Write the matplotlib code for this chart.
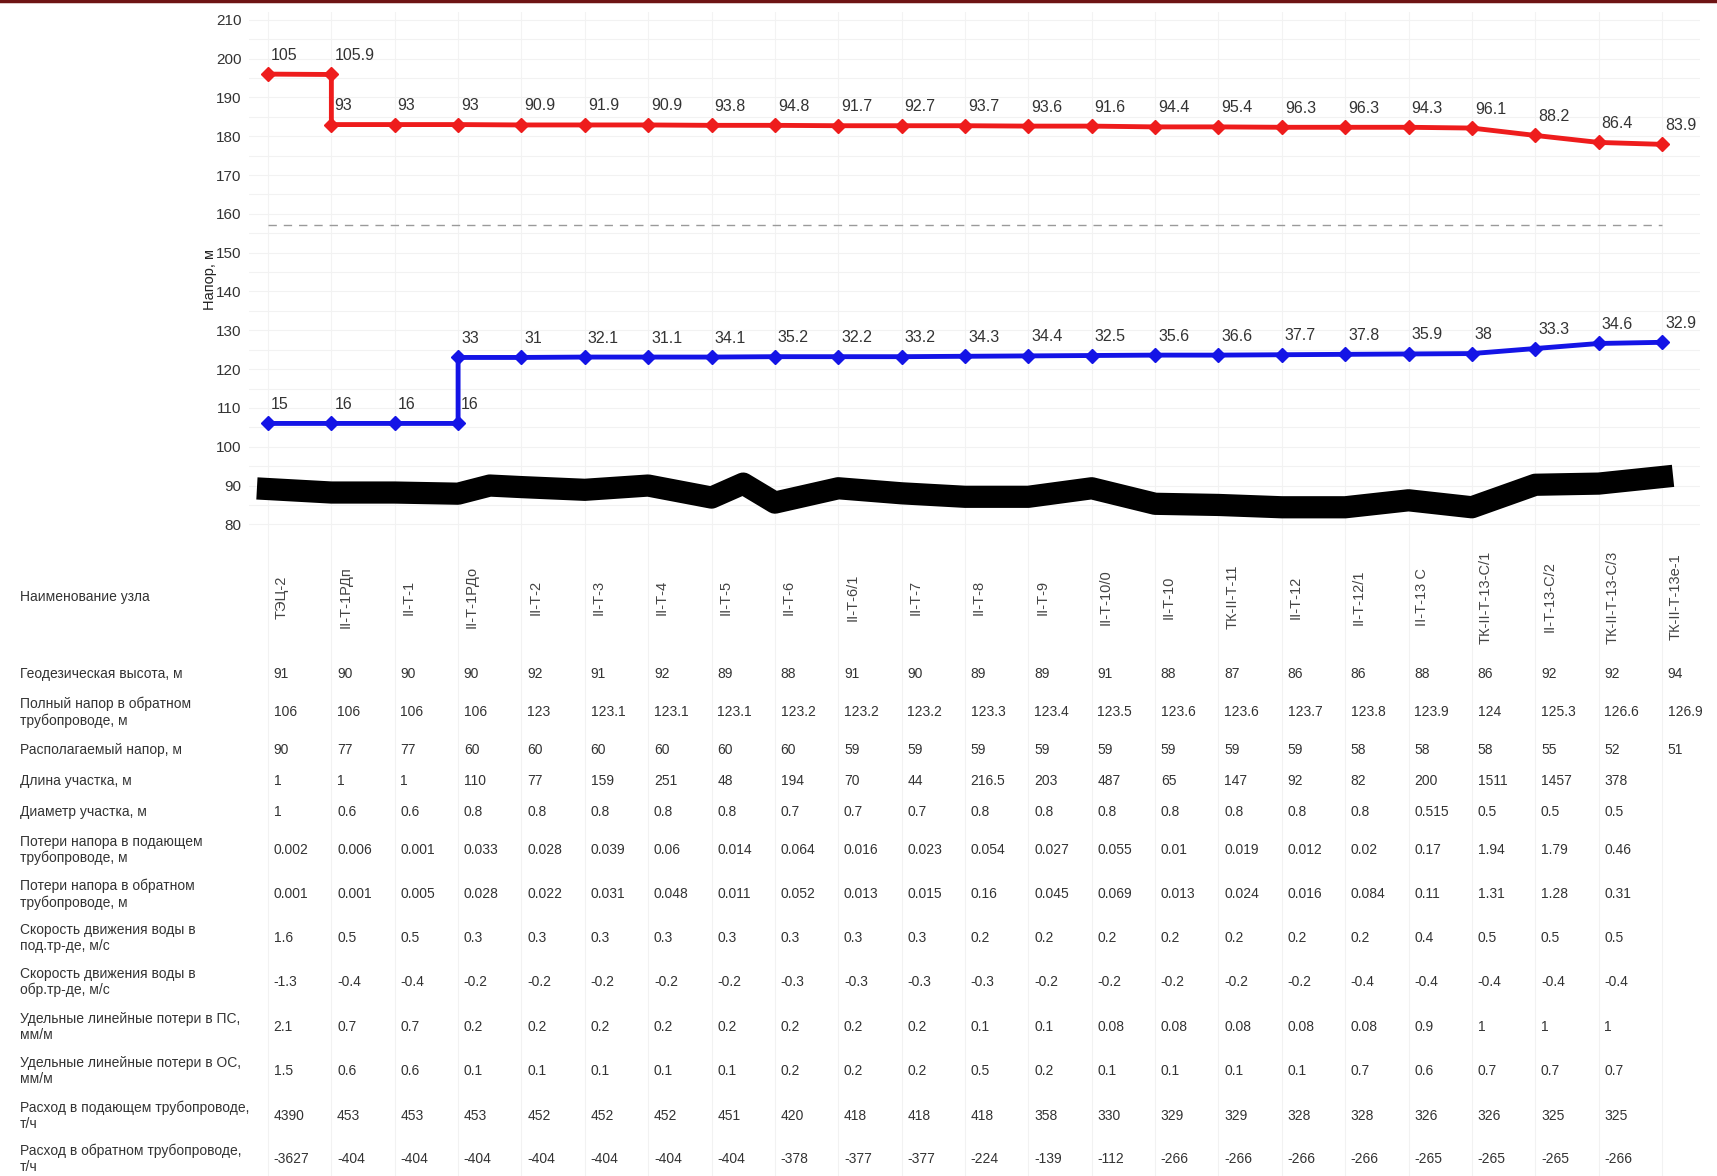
import matplotlib.pyplot as plt
import matplotlib.transforms as mtransforms

plt.rcParams['font.family'] = ['Liberation Sans', 'DejaVu Sans']

# Узлы трассы
nodes = ['ТЭЦ-2', 'II-Т-1РДп', 'II-Т-1', 'II-Т-1РДо', 'II-Т-2', 'II-Т-3', 'II-Т-4',
         'II-Т-5', 'II-Т-6', 'II-Т-6/1', 'II-Т-7', 'II-Т-8', 'II-Т-9', 'II-Т-10/0',
         'II-Т-10', 'ТК-II-Т-11', 'II-Т-12', 'II-Т-12/1', 'II-Т-13 С', 'ТК-II-Т-13-С/1',
         'II-Т-13-С/2', 'ТК-II-Т-13-С/3', 'ТК-II-Т-13е-1']

# Данные таблицы
geo = [91, 90, 90, 90, 92, 91, 92, 89, 88, 91, 90, 89, 89, 91, 88, 87, 86, 86, 88, 86, 92, 92, 94]
full_return = [106, 106, 106, 106, 123, 123.1, 123.1, 123.1, 123.2, 123.2, 123.2, 123.3, 123.4,
               123.5, 123.6, 123.6, 123.7, 123.8, 123.9, 124, 125.3, 126.6, 126.9]
avail = [90, 77, 77, 60, 60, 60, 60, 60, 60, 59, 59, 59, 59, 59, 59, 59, 59, 58, 58, 58, 55, 52, 51]
length = [1, 1, 1, 110, 77, 159, 251, 48, 194, 70, 44, 216.5, 203, 487, 65, 147, 92, 82, 200,
          1511, 1457, 378]
diameter = [1, 0.6, 0.6, 0.8, 0.8, 0.8, 0.8, 0.8, 0.7, 0.7, 0.7, 0.8, 0.8, 0.8, 0.8, 0.8, 0.8,
            0.8, 0.515, 0.5, 0.5, 0.5]
loss_supply = [0.002, 0.006, 0.001, 0.033, 0.028, 0.039, 0.06, 0.014, 0.064, 0.016, 0.023, 0.054,
               0.027, 0.055, 0.01, 0.019, 0.012, 0.02, 0.17, 1.94, 1.79, 0.46]
loss_return = [0.001, 0.001, 0.005, 0.028, 0.022, 0.031, 0.048, 0.011, 0.052, 0.013, 0.015, 0.16,
               0.045, 0.069, 0.013, 0.024, 0.016, 0.084, 0.11, 1.31, 1.28, 0.31]
vel_supply = [1.6, 0.5, 0.5, 0.3, 0.3, 0.3, 0.3, 0.3, 0.3, 0.3, 0.3, 0.2, 0.2, 0.2, 0.2, 0.2, 0.2,
              0.2, 0.4, 0.5, 0.5, 0.5]
vel_return = [-1.3, -0.4, -0.4, -0.2, -0.2, -0.2, -0.2, -0.2, -0.3, -0.3, -0.3, -0.3, -0.2, -0.2,
              -0.2, -0.2, -0.2, -0.4, -0.4, -0.4, -0.4, -0.4]
spec_loss_ps = [2.1, 0.7, 0.7, 0.2, 0.2, 0.2, 0.2, 0.2, 0.2, 0.2, 0.2, 0.1, 0.1, 0.08, 0.08, 0.08,
                0.08, 0.08, 0.9, 1, 1, 1]
spec_loss_os = [1.5, 0.6, 0.6, 0.1, 0.1, 0.1, 0.1, 0.1, 0.2, 0.2, 0.2, 0.5, 0.2, 0.1, 0.1, 0.1,
                0.1, 0.7, 0.6, 0.7, 0.7, 0.7]
flow_supply = [4390, 453, 453, 453, 452, 452, 452, 451, 420, 418, 418, 418, 358, 330, 329, 329,
               328, 328, 326, 326, 325, 325]
flow_return = [-3627, -404, -404, -404, -404, -404, -404, -404, -378, -377, -377, -224, -139, -112,
               -266, -266, -266, -266, -265, -265, -265, -266]

# Пьезометр подающей линии (напор над землёй), со ступенькой на II-Т-1РДп
supply_x = [0, 1, 1] + list(range(2, 23))
supply_above = [105, 105.9, 93, 93, 93, 90.9, 91.9, 90.9, 93.8, 94.8, 91.7, 92.7, 93.7, 93.6,
                91.6, 94.4, 95.4, 96.3, 96.3, 94.3, 96.1, 88.2, 86.4, 83.9]
# Пьезометр обратной линии, со ступенькой на II-Т-1РДо
return_x = [0, 1, 2, 3, 3] + list(range(4, 23))
return_above = [15, 16, 16, 16, 33, 31, 32.1, 31.1, 34.1, 35.2, 32.2, 33.2, 34.3, 34.4, 32.5,
                35.6, 36.6, 37.7, 37.8, 35.9, 38, 33.3, 34.6, 32.9]
# Профиль земли
terrain_x = [0, 1, 2, 3, 3.5, 4, 5, 6, 7, 7.5, 8, 9, 10, 11, 12, 13, 14, 15, 16, 17, 18, 19, 20, 21, 22]
terrain_y = [89.1, 88.2, 88.2, 87.9, 90.0, 89.6, 88.9, 90.0, 86.9, 90.5, 85.6, 89.3, 88.0, 87.1,
             87.1, 89.3, 85.3, 85.0, 84.4, 84.4, 86.2, 84.4, 90.2, 90.5, 92.2]
static_head = 157

supply_y = [geo[x] + a for x, a in zip(supply_x, supply_above)]
return_y = [geo[x] + a for x, a in zip(return_x, return_above)]

W, H = 1717, 1176
fig = plt.figure(figsize=(W / 100, H / 100), dpi=100)
ax = fig.add_axes([249 / W, 1 - 536 / H, (1700 - 249) / W, (536 - 12) / H])
ax.set_xlim(-0.3, 22.6)
ax.set_ylim(77, 212)

# сетка
for i in range(23):
    ax.axvline(i, color='#f3f3f3', lw=0.8, zorder=0)
for yv in range(80, 211, 5):
    ax.axhline(yv, color='#f2f2f2', lw=0.8, zorder=0)

ax.plot(terrain_x, terrain_y, color='black', lw=16, solid_joinstyle='round', zorder=2)
ax.hlines(static_head, 0, 22, colors='#9a9a9a', linestyles=(0, (6, 5)), lw=1, zorder=1)
ax.plot(supply_x, supply_y, color='#ee1c1c', lw=3.5, marker='D', ms=7, zorder=3)
ax.plot(return_x, return_y, color='#1414e6', lw=3.5, marker='D', ms=7, zorder=3)

for x, y, a in zip(supply_x, supply_y, supply_above):
    ax.annotate(f'{a:g}', (x, y), xytext=(3, 19), textcoords='offset pixels',
                ha='left', va='center', fontsize=11.5, color='#333333')
for x, y, a in zip(return_x, return_y, return_above):
    ax.annotate(f'{a:g}', (x, y), xytext=(3, 19), textcoords='offset pixels',
                ha='left', va='center', fontsize=11.5, color='#333333')

ax.set_yticks(range(80, 211, 10))
ax.tick_params(left=False, bottom=False, labelbottom=False, labelsize=11, pad=2,
               labelcolor='#333333')
ax.set_ylabel('Напор, м', fontsize=10.5, color='#222222')
ax.yaxis.set_label_coords(-0.022, 0.49)
for s in ax.spines.values():
    s.set_visible(False)

# Таблица под графиком (координата y = пиксель от верха рисунка)
ax_t = fig.add_axes([249 / W, 0, (1700 - 249) / W, (H - 536) / H])
ax_t.set_xlim(-0.3, 22.6)
ax_t.set_ylim(H, 536)
ax_t.axis('off')
for i in range(23):
    ax_t.axvline(i, color='#f2f2f2', lw=0.8, zorder=0)

lbl_tr = mtransforms.blended_transform_factory(fig.transFigure, ax_t.transData)

ax_t.text(20 / W, 597, 'Наименование узла', transform=lbl_tr, ha='left', va='center',
          fontsize=10, color='#333333')
for i, name in enumerate(nodes):
    ax_t.text(i + 0.22, 597, name, rotation=90, ha='center', va='center', fontsize=10.5,
              color='#444444')

rows = [
    ('Геодезическая высота, м', geo, 674),
    ('Полный напор в обратном\nтрубопроводе, м', full_return, 712),
    ('Располагаемый напор, м', avail, 750),
    ('Длина участка, м', length, 781),
    ('Диаметр участка, м', diameter, 812),
    ('Потери напора в подающем\nтрубопроводе, м', loss_supply, 850),
    ('Потери напора в обратном\nтрубопроводе, м', loss_return, 894),
    ('Скорость движения воды в\nпод.тр-де, м/с', vel_supply, 938),
    ('Скорость движения воды в\nобр.тр-де, м/с', vel_return, 982),
    ('Удельные линейные потери в ПС,\nмм/м', spec_loss_ps, 1027),
    ('Удельные линейные потери в ОС,\nмм/м', spec_loss_os, 1071),
    ('Расход в подающем трубопроводе,\nт/ч', flow_supply, 1116),
    ('Расход в обратном трубопроводе,\nт/ч', flow_return, 1159),
]
for label, vals, yy in rows:
    ax_t.text(20 / W, yy, label, transform=lbl_tr, ha='left', va='center', fontsize=10,
              color='#333333', linespacing=1.2)
    for i, v in enumerate(vals):
        ax_t.text(i + 0.09, yy, f'{v:g}', ha='left', va='center', fontsize=10,
                  color='#333333')

# тёмная полоса сверху
fig.add_artist(plt.Line2D([0, 1], [1 - 1.2 / H, 1 - 1.2 / H], transform=fig.transFigure,
                          color='#6e1414', lw=2.5))

plt.savefig('out.png', dpi=100)
